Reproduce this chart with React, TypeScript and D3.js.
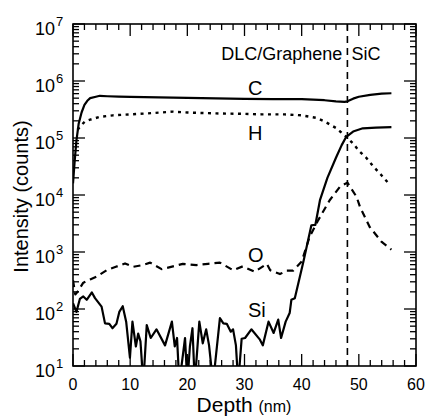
import React from "react";
import * as d3 from "d3";

// ---------- data ----------
const cDepth = [0, 0.3, 0.6, 1.0, 1.5, 2.0, 2.5, 3.0, 4.0, 4.7, 6, 8, 10, 15, 20, 25, 30, 35, 40, 44, 46, 47.5, 48, 49, 50, 52, 54, 55.7];
const cCounts = [1.6e4, 4e4, 9e4, 1.8e5, 2.8e5, 3.8e5, 4.5e5, 5.0e5, 5.3e5, 5.5e5, 5.4e5, 5.3e5, 5.25e5, 5.15e5, 5.05e5, 4.95e5, 4.85e5, 4.8e5, 4.8e5, 4.6e5, 4.4e5, 4.3e5, 4.4e5, 4.9e5, 5.3e5, 5.7e5, 6.0e5, 6.1e5];

const hDepth = [0.8, 1.5, 2.1, 3, 4.7, 7, 10, 13, 17.5, 20, 25, 30, 33, 37, 40, 42.6, 44, 46, 47.8, 49, 50, 51.3, 52.5, 54, 55.2];
const hCounts = [1.4e5, 1.7e5, 1.95e5, 2.1e5, 2.35e5, 2.5e5, 2.6e5, 2.7e5, 2.9e5, 2.8e5, 2.7e5, 2.65e5, 2.6e5, 2.6e5, 2.5e5, 2.25e5, 1.95e5, 1.5e5, 1.05e5, 8e4, 6e4, 4.5e4, 3.2e4, 2.2e4, 1.6e4];

const oDepth = [0, 0.4, 0.8, 1.8, 3, 4.1, 5.9, 7.5, 9.1, 10.5, 12.2, 13.5, 15.5, 17.5, 19.2, 21.6, 23.6, 25.7, 28, 29.7, 31.8, 33.9, 34.5, 36.2, 37.4, 38.5, 40, 41.4, 42.9, 44.9, 46.7, 48, 49.6, 50.2, 51.9, 54, 55.7];
const oCounts = [320, 180, 200, 290, 330, 370, 480, 550, 630, 550, 590, 650, 500, 560, 620, 590, 620, 650, 480, 560, 450, 620, 480, 410, 470, 470, 680, 1860, 3630, 8100, 1.4e4, 1.65e4, 9300, 6200, 2750, 1500, 1100];

const siDepth = [0, 0.6, 1.2, 1.8, 2.4, 3.3, 3.85, 5.0, 5.6, 6.35, 6.9, 7.6, 8.1, 8.7, 9.3, 9.96, 10.4, 11.0, 11.4, 11.8, 12.3, 12.9, 13.6, 14.6, 16.1, 17.3, 17.8, 18.2, 18.6, 19.6, 20.0, 20.45, 20.9, 21.3, 22.1, 22.7, 23.3, 23.8, 24.5, 25.7, 26.3, 26.9, 27.6, 28.0, 28.5, 28.9, 29.5, 30.1, 31.2, 32.7, 33.2, 34.2, 35.1, 35.9, 36.4, 37.2, 37.9, 38.2, 38.8, 40.3, 41.7, 42.4, 43.2, 44.5, 46.0, 47.0, 47.8, 49.0, 50.7, 53, 55.7];
const siCounts = [126, 89, 150, 166, 145, 195, 155, 110, 56, 55, 46, 55, 89, 112, 60, 14, 60, 22, 37, 27, 5, 52, 31, 44, 23, 60, 22, 31, 5, 31, 5, 22, 46, 5, 60, 25, 44, 23, 5, 69, 56, 55, 40, 44, 23, 5, 30, 31, 44, 29, 23, 60, 38, 65, 31, 60, 85, 145, 155, 676, 2950, 3000, 8100, 2.0e4, 4.5e4, 7.5e4, 1.05e5, 1.3e5, 1.48e5, 1.52e5, 1.55e5];

const xTicks = [0, 10, 20, 30, 40, 50, 60];
const yDecades = [1, 2, 3, 4, 5, 6, 7];
const interfaceDepth = 48;

// ---------- layout ----------
const W = 426;
const H = 417;
const L = 73, R = 416, T = 24, B = 366;
const FONT = "'Liberation Sans', Arial, Helvetica, sans-serif";

export default function App() {
  const x = d3.scaleLinear().domain([0, 60]).range([L, R]);
  const y = d3.scaleLog().domain([10, 1e7]).range([B, T]);

  const mk = (xs: number[], ys: number[]) =>
    d3.line<number>().x((_, i) => x(xs[i])).y((_, i) => y(ys[i]))(xs.map((_, i) => i)) || "";

  const minorX = d3.range(0, 61, 2).filter((v) => v % 10 !== 0);
  const minorY: number[] = [];
  for (let e = 1; e < 7; e++) for (let k = 2; k <= 9; k++) minorY.push(k * Math.pow(10, e));

  return (
    <div style={{ position: "absolute", left: 0, top: 0 }}>
      <svg width={W} height={H} style={{ display: "block", background: "#fff" }} fontFamily={FONT}>
        <defs>
          <clipPath id="plotclip">
            <rect x={L} y={T} width={R - L} height={B - T} />
          </clipPath>
        </defs>

        {/* curves */}
        <g clipPath="url(#plotclip)" fill="none" stroke="#000" strokeLinejoin="round">
          <path d={mk(cDepth, cCounts)} strokeWidth={2.2} />
          <path d={mk(hDepth, hCounts)} strokeWidth={2.4} strokeDasharray="3,4.5" />
          <path d={mk(oDepth, oCounts)} strokeWidth={2.2} strokeDasharray="7,5" />
          <path d={mk(siDepth, siCounts)} strokeWidth={2.2} />
          <line x1={x(interfaceDepth)} x2={x(interfaceDepth)} y1={T} y2={B} strokeWidth={1.6} strokeDasharray="7,5" />
        </g>

        {/* ticks */}
        <g stroke="#000" strokeWidth={1.3}>
          {xTicks.map((t) => (
            <g key={"xt" + t}>
              <line x1={x(t)} x2={x(t)} y1={B} y2={B - 12} />
              <line x1={x(t)} x2={x(t)} y1={T} y2={T + 12} />
            </g>
          ))}
          {minorX.map((t) => (
            <g key={"xm" + t}>
              <line x1={x(t)} x2={x(t)} y1={B} y2={B - 6} />
              <line x1={x(t)} x2={x(t)} y1={T} y2={T + 6} />
            </g>
          ))}
          {yDecades.map((e) => (
            <g key={"yt" + e}>
              <line x1={L} x2={L + 12} y1={y(Math.pow(10, e))} y2={y(Math.pow(10, e))} />
              <line x1={R} x2={R - 12} y1={y(Math.pow(10, e))} y2={y(Math.pow(10, e))} />
            </g>
          ))}
          {minorY.map((v) => (
            <g key={"ym" + v}>
              <line x1={L} x2={L + 6} y1={y(v)} y2={y(v)} />
              <line x1={R} x2={R - 6} y1={y(v)} y2={y(v)} />
            </g>
          ))}
        </g>

        {/* frame */}
        <rect x={L} y={T} width={R - L} height={B - T} fill="none" stroke="#000" strokeWidth={1.6} />

        {/* x tick labels */}
        {xTicks.map((t) => (
          <text key={"xl" + t} x={x(t)} y={390} fontSize={16} textAnchor="middle" fill="#000">
            {t}
          </text>
        ))}
        {/* y tick labels */}
        {yDecades.map((e) => (
          <g key={"yl" + e}>
            <text x={55} y={y(Math.pow(10, e)) + 11} fontSize={18} textAnchor="end" fill="#000">10</text>
            <text x={56} y={y(Math.pow(10, e)) + 2} fontSize={13} textAnchor="start" fill="#000">{e}</text>
          </g>
        ))}

        {/* axis titles */}
        <text x={244} y={412} textAnchor="middle" fill="#000">
          <tspan fontSize={21}>Depth </tspan>
          <tspan fontSize={16}>(nm)</tspan>
        </text>
        <text transform="translate(28,196.5) rotate(-90)" textAnchor="middle" fontSize={20} fill="#000">
          Intensity (counts)
        </text>

        {/* annotations */}
        <text x={x(interfaceDepth) - 5} y={60} fontSize={18} textAnchor="end" fill="#000">DLC/Graphene</text>
        <text x={x(interfaceDepth) + 4} y={60} fontSize={18} textAnchor="start" fill="#000">SiC</text>
        <text x={248} y={95} fontSize={20} fill="#000">C</text>
        <text x={248} y={140} fontSize={20} fill="#000">H</text>
        <text x={248} y={262} fontSize={20} fill="#000">O</text>
        <text x={248} y={317} fontSize={20} fill="#000">Si</text>
      </svg>
    </div>
  );
}
